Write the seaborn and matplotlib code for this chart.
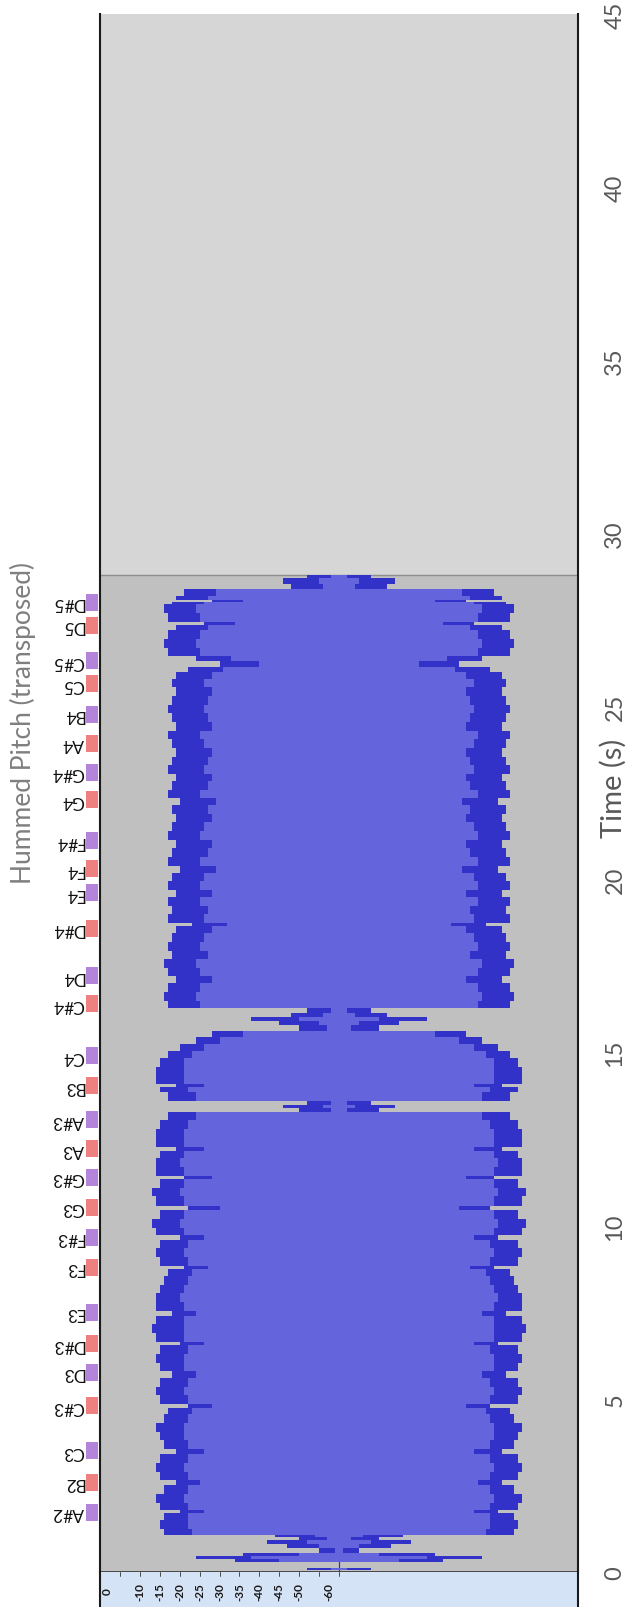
import numpy as np
import pandas as pd
import matplotlib
matplotlib.use("Agg")
import matplotlib.pyplot as plt
import matplotlib.transforms as mtransforms
import seaborn as sns

# ---------------------------------------------------------------- data
# note markers: label and time in seconds
note_names = ["A#2", "B2", "C3", "C#3", "D3", "D#3", "E3", "F3", "F#3", "G3",
              "G#3", "A3", "A#3", "B3", "C4", "C#4", "D4", "D#4", "E4", "F4",
              "F#4", "G4", "G#4", "A4", "B4", "C5", "C#5", "D5", "D#5"]
note_times = [1.72, 2.59, 3.50, 4.80, 5.77, 6.59, 7.50, 8.80, 9.67, 10.53,
              11.40, 12.22, 13.06, 14.05, 14.91, 16.41, 17.22, 18.59, 19.62, 20.31,
              21.12, 22.31, 23.10, 23.94, 24.78, 25.65, 26.32, 27.35, 28.01]

# waveform envelope: each step starts at seg_start (s) and holds its level
# until the next one; levels in dB (-60 = silence)
seg_start = [0.00, 0.05, 0.12, 0.30, 0.38, 0.46, 0.55, 0.70, 0.82, 0.92,
             1.00, 1.08, 1.25, 1.50, 1.70, 1.80, 2.00, 2.25, 2.50, 2.65,
             2.90, 3.15, 3.40, 3.55, 3.80, 4.05, 4.30, 4.55, 4.75, 4.85,
             5.10, 5.35, 5.60, 5.80, 6.05, 6.30, 6.55, 6.65, 6.90, 7.15,
             7.40, 7.55, 7.80, 8.05, 8.30, 8.55, 8.75, 8.85, 9.10, 9.35,
             9.60, 9.72, 9.95, 10.20, 10.45, 10.58, 10.85, 11.10, 11.35, 11.45,
             11.70, 11.95, 12.15, 12.28, 12.55, 12.80, 13.05, 13.30, 13.40, 13.50,
             13.60, 13.85, 14.00, 14.10, 14.35, 14.60, 14.85, 15.05, 15.25, 15.45,
             15.62, 15.80, 15.92, 16.02, 16.15, 16.28, 16.50, 16.75, 17.00, 17.20,
             17.45, 17.70, 17.95, 18.20, 18.45, 18.65, 18.75, 19.00, 19.25, 19.50,
             19.70, 19.95, 20.20, 20.40, 20.65, 20.90, 21.15, 21.40, 21.65, 21.90,
             22.15, 22.35, 22.60, 22.85, 23.05, 23.30, 23.55, 23.80, 24.05, 24.30,
             24.55, 24.80, 25.05, 25.30, 25.55, 25.80, 26.00, 26.15, 26.30, 26.45,
             26.70, 26.95, 27.20, 27.35, 27.45, 27.70, 27.95, 28.03, 28.08, 28.20,
             28.40, 28.55, 28.70]
peak_db = [-60, -52, -60, -34, -24, -36, -55, -47, -42, -50,
           -44, -16, -15, -16, -20, -15, -14, -16, -19, -15,
           -14, -15, -19, -16, -15, -14, -16, -17, -22, -15,
           -14, -15, -18, -15, -14, -15, -20, -14, -13, -14,
           -18, -14, -14, -15, -16, -17, -21, -15, -14, -15,
           -20, -14, -13, -15, -22, -14, -13, -15, -21, -14,
           -14, -15, -19, -14, -14, -15, -17, -50, -46, -52,
           -17, -15, -19, -14, -14, -15, -17, -20, -24, -28,
           -50, -45, -38, -48, -52, -17, -16, -17, -19, -17,
           -16, -18, -17, -18, -19, -23, -17, -18, -17, -19,
           -17, -18, -20, -17, -18, -19, -17, -18, -19, -18,
           -20, -17, -18, -19, -17, -18, -19, -18, -17, -19,
           -18, -17, -18, -19, -18, -19, -22, -30, -24, -17,
           -16, -17, -19, -26, -17, -16, -18, -28, -19, -21,
           -48, -46, -52]
rms_db = [-60, -58, -60, -45, -38, -50, -59, -55, -52, -57,
          -54, -23, -22, -22, -26, -22, -21, -22, -25, -22,
          -21, -22, -26, -22, -21, -21, -22, -23, -28, -22,
          -21, -22, -24, -21, -21, -22, -26, -21, -21, -21,
          -24, -21, -20, -21, -22, -23, -27, -22, -21, -22,
          -26, -21, -20, -21, -30, -21, -20, -21, -28, -21,
          -20, -21, -26, -21, -21, -22, -24, -58, -56, -58,
          -24, -22, -26, -21, -21, -21, -23, -26, -30, -36,
          -57, -55, -50, -56, -58, -25, -24, -25, -28, -25,
          -24, -27, -25, -26, -28, -32, -26, -27, -25, -28,
          -25, -26, -29, -25, -27, -28, -25, -26, -28, -27,
          -29, -25, -27, -28, -26, -27, -28, -26, -25, -28,
          -27, -26, -27, -28, -26, -28, -31, -40, -33, -25,
          -24, -25, -27, -34, -25, -24, -26, -36, -27, -29,
          -56, -55, -58]

ruler_db = [0, -10, -15, -20, -25, -30, -35, -40, -45, -50, -60]
time_ticks = [0, 5, 10, 15, 20, 25, 30, 35, 40, 45]
clip_end = 28.80

# ---------------------------------------------------------------- style
sns.set_style("white")
plt.rcParams["font.family"] = ["Lato", "DejaVu Sans"]

W, H = 637, 1608
fig = plt.figure(figsize=(W / 100, H / 100), dpi=100)


def fx(px):
    return px / W


def fy(px):
    return 1 - px / H


left_px, right_px, top_px, bot_px = 100, 578, 15, 1573
ax = fig.add_axes([fx(left_px), fy(bot_px), fx(right_px - left_px), (bot_px - top_px) / H])

# envelope table; the last level is held until the end of the clip
wave = pd.DataFrame({
    "t": seg_start + [clip_end],
    "peak": np.array(peak_db + [peak_db[-1]], float) + 60,
    "rms": np.array(rms_db + [rms_db[-1]], float) + 60,
})

ax.set_facecolor("#d6d6d6")
ax.axhspan(0, clip_end, color="#c0c0c0", lw=0, zorder=0)
ax.axhline(clip_end, color="#8c8c8c", lw=1.0, zorder=1)

dark = "#3232c8"
light = "#6464dc"
# centre line of the track
centre = pd.DataFrame({"x": [0.0, 0.0], "t": [0.0, clip_end]})
sns.lineplot(data=centre, x="x", y="t", orient="y", sort=False, estimator=None,
             color=dark, lw=0.9, ax=ax, zorder=1.5)
ax.fill_betweenx(wave["t"], -wave["peak"], wave["peak"], step="post", color=dark, lw=0, zorder=2)
ax.fill_betweenx(wave["t"], -wave["rms"], wave["rms"], step="post", color=light, lw=0, zorder=3)

ax.set_xlim(-60, 60)
ax.set_ylim(0, 45)
ax.set_xticks([])
ax.set_xlabel("")
ax.set_ylabel("")
ax.yaxis.tick_right()
ax.set_yticks(time_ticks)
ax.tick_params(axis="y", length=0, pad=19, labelrotation=90, labelsize=17, labelcolor="#595959")
for lbl in ax.get_yticklabels():
    lbl.set_va("center")
for side in ["left", "right"]:
    ax.spines[side].set_color("#1a1a1a")
    ax.spines[side].set_linewidth(1.5)
ax.spines["top"].set_visible(False)
ax.spines["bottom"].set_color("#333333")
ax.spines["bottom"].set_linewidth(1.2)

fig.text(fx(613), fy(788), "Time (s)", rotation=90, ha="center", va="center",
         fontsize=21, color="#595959")
# pitch column title
fig.text(fx(23), fy(723), "Hummed Pitch (transposed)", rotation=90, ha="center", va="center",
         fontsize=19, color="#7f7f7f")

# note markers
axn = fig.add_axes([fx(86), fy(bot_px), fx(12), (bot_px - top_px) / H], sharey=ax)
colors = ["#b484da" if i % 2 == 0 else "#ef8080" for i in range(len(note_names))]
axn.barh(note_times, 1, height=0.49, left=0, color=colors, lw=0)
axn.set_xlim(0, 1)
axn.axis("off")
tr = mtransforms.blended_transform_factory(axn.transAxes, axn.transData)
for name, t in zip(note_names, note_times):
    axn.text(-0.15, t, name, transform=tr, rotation=180, ha="right", va="center",
             fontsize=12.5, color="#111111")

# dB ruler strip
axr = fig.add_axes([fx(left_px), 0, fx(right_px - left_px), (H - bot_px) / H])
axr.set_facecolor("#d5e3f7")
axr.set_xlim(-60, 60)
axr.set_ylim(0, 1)
for d in range(0, -65, -5):
    axr.plot([-(60 + d), -(60 + d)], [1, 0.88], color="#333333", lw=0.6)
for d in ruler_db:
    x = -(60 + d)
    if d == 0:
        x += 1.8
    if d == -60:
        x -= 2.5
    axr.text(x, 0.46, str(d), rotation=90, ha="center", va="center", fontsize=8.5,
             color="#1a1a1a", fontweight="bold")
axr.set_xticks([])
axr.set_yticks([])
for side in ["left", "right"]:
    axr.spines[side].set_color("#1a1a1a")
    axr.spines[side].set_linewidth(1.5)
axr.spines["top"].set_visible(False)
axr.spines["bottom"].set_visible(False)

fig.savefig("out.png", dpi=100)
